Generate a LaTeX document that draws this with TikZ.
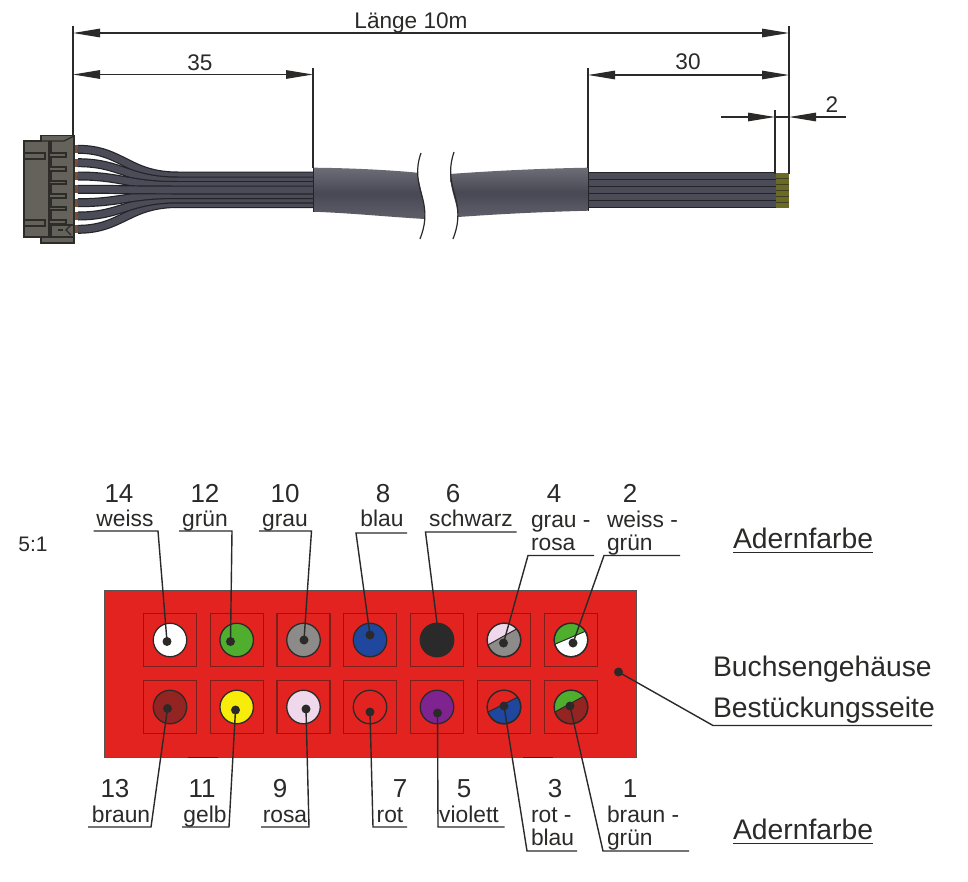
\documentclass[tikz,border=0pt]{standalone}
\usepackage{fontspec}
\setmainfont{Liberation Sans}
\usetikzlibrary{arrows.meta}
\definecolor{ink}{HTML}{2B2A29}
\definecolor{housered}{HTML}{E3231F}
\definecolor{squareline}{HTML}{7E1F1C}
\definecolor{wbrown}{HTML}{932421}
\definecolor{wgreen}{HTML}{4FAE2E}
\definecolor{wgrey}{HTML}{8C8B8A}
\definecolor{wblue}{HTML}{1F479E}
\definecolor{wpink}{HTML}{EFD8EC}
\definecolor{wyellow}{HTML}{F7EC0A}
\definecolor{wviolet}{HTML}{7E2390}
\definecolor{wblack}{HTML}{2A2A2A}
\definecolor{bodygrey}{HTML}{65625B}
\definecolor{bodyline}{HTML}{2E2C29}
\definecolor{wirefill}{HTML}{4B4C57}
\definecolor{wireedge}{HTML}{242428}
\definecolor{jackmid}{HTML}{474853}
\definecolor{jacktop}{HTML}{6C6D77}
\definecolor{jackbot}{HTML}{5E5F69}
\definecolor{copper}{HTML}{7A4F36}
\definecolor{tipolive}{HTML}{6A6A22}
\tikzset{
  x=1pt,y=-1pt,
  every node/.style={inner sep=0pt,outer sep=0pt,text=ink},
  numlabel/.style={font=\fontsize{26}{28}\selectfont,anchor=base},
  namelabel/.style={font=\fontsize{22.8}{24}\selectfont,anchor=base},
  leftname/.style={font=\fontsize{22.8}{24}\selectfont,anchor=base west},
  biglabel/.style={font=\fontsize{28.3}{30}\selectfont,anchor=base west},
  dimtext/.style={font=\fontsize{22.6}{24}\selectfont,anchor=base},
  leader/.style={draw=ink,line width=1.4pt},
  dimline/.style={draw=ink,line width=1.2pt},
  dimarrow/.style={dimline,-{Triangle[length=27pt,width=8.5pt]}},
  dimboth/.style={dimline,{Triangle[length=27pt,width=8.5pt]}-{Triangle[length=27pt,width=8.5pt]}},
  pinsq/.style={draw=squareline,line width=1.3pt,minimum size=53pt,shape=rectangle},
  pincirc/.style={circle,draw=ink,line width=1.3pt,minimum size=33.5pt},
  pindot/.style={circle,fill=ink,minimum size=9pt},
  wirecore/.style={draw=wireedge,line width=9pt},
  wiretop/.style={draw=wirefill,line width=6.6pt},
}
\newcommand{\pinat}[4]{% name, x, y, colour
  \node[pinsq] (s#1) at (#2,#3) {};
  \node[pincirc,fill=#4] (c#1) at (#2,#3) {};
}
\newcommand{\splitpin}[9]{% name x y topcol botcol ax ay bx by
  \node[pinsq] (s#1) at (#2,#3) {};
  \node[pincirc,fill=#5] (c#1) at (#2,#3) {};
  \begin{scope}
    \clip (#2,#3) circle (16.5);
    \fill[#4] (#6,#7) -- (#8,#9) -- (#8,#3-30) -- (#6,#3-30) -- cycle;
    \draw[ink,line width=1pt] (#6,#7) -- (#8,#9);
  \end{scope}
  \node[pincirc] (o#1) at (#2,#3) {};
}
\newcommand{\flatwire}[3]{% x1 x2 y
  \draw[wireedge,line width=8.2pt] (#1,#3) -- (#2,#3);
  \draw[draw=wirefill,line width=5.6pt] (#1,#3) -- (#2,#3);
}
\newcommand{\curvewire}[2]{% start y, end y
  \fill[copper] (74,#1-4) rectangle (79,#1+4);
  \draw[wirecore] (78,#1) .. controls (122,#1) and (128,#2) .. (178,#2) -- (313,#2);
  \draw[wiretop] (78,#1) .. controls (122,#1) and (128,#2) .. (178,#2) -- (313,#2);
}
\begin{document}
\begin{tikzpicture}
\useasboundingbox (0,0) rectangle (968,881);
\fill[white] (0,0) rectangle (968,881);

% ---------- cable drawing ----------
\curvewire{149.3}{176}
\curvewire{162.7}{181}
\curvewire{176}{185.5}
\curvewire{229.3}{203.5}
\curvewire{216}{199}
\curvewire{202.7}{194.5}
\curvewire{189.3}{190}

% connector housing
\fill[bodygrey,draw=bodyline,line width=1.3pt] (24,141) -- (41,141) -- (41,135.5) -- (74,135.5) -- (74,243) -- (41,243) -- (41,237) -- (24,237) -- cycle;
\draw[bodyline,line width=1.3pt] (41,141) -- (64,141) -- (74,136);
\draw[bodyline,line width=1.3pt] (41,237) -- (74,237);
\draw[bodyline,line width=1.3pt] (49,141) -- (49,237);
\draw[bodyline,line width=1.3pt] (51,141) -- (51,153) -- (66,153) -- (66,157) -- (51,157) -- (51,167) -- (66,167) -- (66,171) -- (51,171) -- (51,181) -- (66,181) -- (66,184) -- (51,184) -- (51,194) -- (66,194) -- (66,198) -- (51,198) -- (51,207) -- (66,207) -- (66,210) -- (51,210) -- (51,220) -- (66,220) -- (66,224) -- (51,224) -- (51,237);
\draw[bodyline,line width=1.3pt] (24,153) -- (45,153) -- (45,159) -- (24,159);
\draw[bodyline,line width=1.3pt] (24,220) -- (45,220) -- (45,226) -- (24,226);
\draw[bodyline,line width=1.3pt] (51,225) -- (74,225);
\draw[bodyline,line width=1.2pt] (71,225) -- (66,230) -- (71,235);
\fill[bodyline] (58,229) rectangle (63,231);

% flat wires, right end
\flatwire{588}{776}{176}
\flatwire{588}{776}{183}
\flatwire{588}{776}{190}
\flatwire{588}{776}{197}
\flatwire{588}{776}{204}
\fill[tipolive] (776,172.5) rectangle (789,208);
\foreach \yy in {178,184,190,196,202}{\draw[ink!70!tipolive,line width=.8pt] (776,\yy) -- (789,\yy);}

% jacket
\shade[top color=jacktop,bottom color=jackbot,middle color=jackmid]
  (313,167.7) .. controls (350,168) and (390,170) .. (417,172.7)
  .. controls (421,190) and (425,205) .. (425,219)
  .. controls (390,217) and (350,213) .. (313,211.7) -- cycle;
\shade[top color=jacktop,bottom color=jackbot,middle color=jackmid]
  (450,174) .. controls (490,171) and (540,168.5) .. (588,167.7)
  -- (588,210.7) .. controls (540,212) and (500,214) .. (458,217)
  .. controls (458,205) and (450,190) .. (450,174) -- cycle;
\draw[wireedge,line width=.8pt] (313,167.7) -- (313,211.7);
\draw[wireedge,line width=.8pt] (588,167.7) -- (588,210.7);
\draw[ink,line width=1.2pt] (421,153) .. controls (415,170) and (418,182) .. (422,196) .. controls (427,214) and (425,226) .. (420,239);
\draw[ink,line width=1.2pt] (454,152) .. controls (448,170) and (451,182) .. (455,196) .. controls (460,214) and (458,226) .. (453,239);

% dimensions
\coordinate (e0t) at (73,26);  \coordinate (e0b) at (73,136);
\coordinate (e1t) at (789,26); \coordinate (e1b) at (789,174);
\coordinate (e2t) at (313,68); \coordinate (e2b) at (313,168);
\coordinate (e3t) at (588,68); \coordinate (e3b) at (588,168);
\coordinate (e4t) at (775,110);\coordinate (e4b) at (775,174);
\draw[dimline] (e0t) -- (e0b);
\draw[dimline] (e1t) -- (e1b);
\draw[dimline] (e2t) -- (e2b);
\draw[dimline] (e3t) -- (e3b);
\draw[dimline] (e4t) -- (e4b);
\coordinate (al) at (73,33);  \coordinate (ar) at (789,33);
\coordinate (bl) at (73,74.5);\coordinate (br) at (313,74.5);
\coordinate (cl) at (588,75); \coordinate (cr) at (789,75);
\coordinate (dl) at (721,117);\coordinate (dm) at (775,117);
\coordinate (dr) at (846,117);\coordinate (dn) at (789,117);
\draw[dimboth] (al) -- (ar);
\draw[dimboth] (bl) -- (br);
\draw[dimboth] (cl) -- (cr);
\draw[dimarrow] (dl) -- (dm);
\draw[dimarrow] (dr) -- (dn);
\draw[dimline] (dm) -- (dn);
\node[dimtext] (tlen) at (411,28) {Länge 10m};
\node[dimtext] (t35) at (200,70) {35};
\node[dimtext] (t30) at (688,69) {30};
\node[dimtext] (t2) at (832,112) {2};
\node[font=\fontsize{21}{23}\selectfont,anchor=base] (tscale) at (33,551) {5:1};

% ---------- housing ----------
\node[draw=ink!80,fill=housered,line width=.8pt,minimum width=531.5pt,minimum height=167pt] (house) at (370.5,673.5) {};
\draw[ink,line width=1pt] (188,757.5) -- (218,757.5);
\draw[ink,line width=1pt] (523,757.5) -- (553,757.5);

\pinat{14}{170}{640}{white}
\pinat{12}{236.7}{640}{wgreen}
\pinat{10}{303.5}{640}{wgrey}
\pinat{8}{370}{640}{wblue}
\pinat{6}{437}{640}{wblack}
\splitpin{4}{504}{640}{wpink}{wgrey}{486}{646}{520}{627}
\splitpin{2}{571}{640}{wgreen}{white}{553}{645}{586}{631}
\pinat{13}{170}{707}{wbrown}
\pinat{11}{236.7}{707}{wyellow}
\pinat{9}{303.5}{707}{wpink}
\pinat{7}{370}{707}{housered}
\pinat{5}{437}{707}{wviolet}
\splitpin{3}{504}{707}{housered}{wblue}{486}{713}{520}{696}
\splitpin{1}{571}{707}{wgreen}{wbrown}{553}{713}{586}{695}

% dots
\node[pindot] (d14) at (167,641.5) {};
\node[pindot] (d12) at (230.5,641.5) {};
\node[pindot] (d10) at (304,640) {};
\node[pindot] (d8) at (370,635) {};
\node[pindot] (d4) at (503.5,643) {};
\node[pindot] (d2) at (573,643) {};
\node[pindot] (d13) at (167.5,708.5) {};
\node[pindot] (d11) at (235.5,710) {};
\node[pindot] (d9) at (306,709) {};
\node[pindot] (d7) at (370,712) {};
\node[pindot] (d5) at (437.5,713) {};
\node[pindot] (d3) at (504,706) {};
\node[pindot] (d1) at (570,706) {};
\node[pindot] (dh) at (618.5,672) {};

% leaders, top
\coordinate (l14a) at (93.5,531);\coordinate (l14b) at (158,531);
\coordinate (l12a) at (179,531);\coordinate (l12b) at (232,531);
\coordinate (l10a) at (259,531);\coordinate (l10b) at (311.5,531);
\coordinate (l8a) at (407,533);\coordinate (l8b) at (356,533);
\coordinate (l6a) at (516.5,532);\coordinate (l6b) at (425.5,532);
\coordinate (l4a) at (594,555.5);\coordinate (l4b) at (528,555.5);
\coordinate (l2a) at (680,555.5);\coordinate (l2b) at (604,555.5);
\draw[leader] (l14a) -- (l14b) -- (d14.center);
\draw[leader] (l12a) -- (l12b) -- (d12.center);
\draw[leader] (l10a) -- (l10b) -- (d10.center);
\draw[leader] (l8a) -- (l8b) -- (d8.center);
\draw[leader] (l6a) -- (l6b) -- (c6.north);
\draw[leader] (l4a) -- (l4b) -- (d4.center);
\draw[leader] (l2a) -- (l2b) -- (d2.center);
% leaders, bottom
\coordinate (l13a) at (88,827);\coordinate (l13b) at (151,827);
\coordinate (l11a) at (182,827);\coordinate (l11b) at (229,827);
\coordinate (l9a) at (261,827);\coordinate (l9b) at (309,827);
\coordinate (l7a) at (407,827);\coordinate (l7b) at (373,827);
\coordinate (l5a) at (504.5,827);\coordinate (l5b) at (438,827);
\coordinate (l3a) at (577,851);\coordinate (l3b) at (527,851);
\coordinate (l1a) at (689,851);\coordinate (l1b) at (603,851);
\coordinate (lha) at (932,725.5);\coordinate (lhb) at (713,725.5);
\draw[leader] (l13a) -- (l13b) -- (d13.center);
\draw[leader] (l11a) -- (l11b) -- (d11.center);
\draw[leader] (l9a) -- (l9b) -- (d9.center);
\draw[leader] (l7a) -- (l7b) -- (d7.center);
\draw[leader] (l5a) -- (l5b) -- (d5.center);
\draw[leader] (l3a) -- (l3b) -- (d3.center);
\draw[leader] (l1a) -- (l1b) -- (d1.center);
\draw[leader] (lha) -- (lhb) -- (dh.center);

% labels, top
\node[numlabel] (n14) at (119,502) {14};
\node[numlabel] (n12) at (205,502) {12};
\node[numlabel] (n10) at (285,502) {10};
\node[numlabel] (n8) at (383,502) {8};
\node[numlabel] (n6) at (453,502) {6};
\node[numlabel] (n4) at (554,502) {4};
\node[numlabel] (n2) at (630,502) {2};
\node[namelabel] (t14) at (125,526) {weiss};
\node[namelabel] (t12) at (205,526) {grün};
\node[namelabel] (t10) at (285,526) {grau};
\node[namelabel] (t8) at (382,526) {blau};
\node[namelabel] (t6) at (471,526) {schwarz};
\node[leftname] (t4a) at (531,527) {grau -};
\node[leftname] (t4b) at (531,550) {rosa};
\node[leftname] (t2a) at (607,527) {weiss -};
\node[leftname] (t2b) at (607,550) {grün};
% labels, bottom
\node[numlabel] (n13) at (115,797) {13};
\node[numlabel] (n11) at (202,797) {11};
\node[numlabel] (n9) at (280,797) {9};
\node[numlabel] (n7) at (400,797) {7};
\node[numlabel] (n5) at (464,797) {5};
\node[numlabel] (n3) at (555,797) {3};
\node[numlabel] (n1) at (630,797) {1};
\node[namelabel] (t13) at (121,822) {braun};
\node[namelabel] (t11) at (205,822) {gelb};
\node[namelabel] (t9) at (285,822) {rosa};
\node[namelabel] (t7) at (390,822) {rot};
\node[namelabel] (t5) at (469,822) {violett};
\node[leftname] (t3a) at (531,822) {rot -};
\node[leftname] (t3b) at (531,845) {blau};
\node[leftname] (t1a) at (607,822) {braun -};
\node[leftname] (t1b) at (607,845) {grün};
% right captions
\node[biglabel] (cap1) at (733,548) {Adernfarbe};
\node[biglabel] (cap2) at (733,839) {Adernfarbe};
\draw[leader] (cap1.base west) ++(0,4.5) coordinate (u1a) -- ++(140,0) coordinate (u1b);
\draw[leader] (cap2.base west) ++(0,4.5) coordinate (u2a) -- ++(140,0) coordinate (u2b);
\node[biglabel] (cap3) at (713,676) {Buchsengehäuse};
\node[biglabel] (cap4) at (713,717) {Bestückungsseite};
\end{tikzpicture}
\end{document}
